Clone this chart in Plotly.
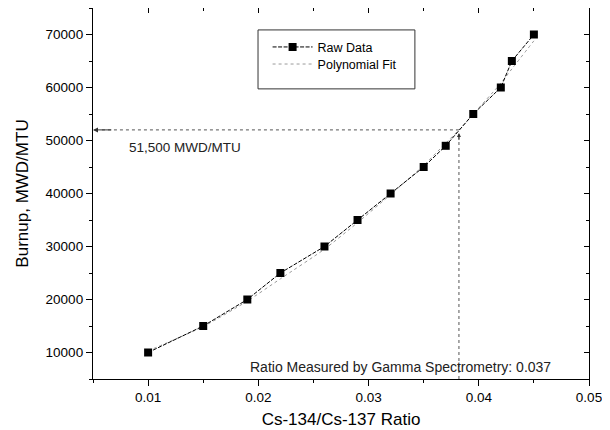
import plotly.graph_objects as go

# ---- data ----
raw_ratio = [0.010, 0.015, 0.019, 0.022, 0.026, 0.029, 0.032, 0.035, 0.037, 0.0395, 0.042, 0.043, 0.045]
raw_burnup = [10000, 15000, 20000, 25000, 30000, 35000, 40000, 45000, 49000, 55000, 60000, 65000, 70000]

fit_ratio = [0.010, 0.015, 0.019, 0.022, 0.026, 0.029, 0.032, 0.035, 0.037, 0.0382, 0.0395, 0.042, 0.043, 0.045]
fit_burnup = [10300, 14900, 19700, 23900, 29500, 34500, 39800, 45300, 49500, 52000, 55000, 60800, 63500, 68800]

measured_ratio = 0.0382
measured_burnup = 52000
x_range = [0.005, 0.05]
y_range = [5000, 75000]

FONT = "Arial, Liberation Sans, sans-serif"

fig = go.Figure()

fig.add_trace(go.Scatter(
    x=fit_ratio, y=fit_burnup, mode="lines", name="Polynomial Fit",
    line=dict(color="#9a9a9a", width=1, dash="dot", shape="spline", smoothing=0.6),
    legend="legend2",
))
fig.add_trace(go.Scatter(
    x=raw_ratio, y=raw_burnup, mode="lines+markers", name="Raw Data",
    line=dict(color="black", width=1, dash="4px,1.5px"),
    marker=dict(symbol="square", size=8, color="black"),
    legend="legend",
))
# dummy trace for the mirrored (inside-tick) axes
fig.add_trace(go.Scatter(x=[None], y=[None], xaxis="x2", yaxis="y2",
                         showlegend=False, hoverinfo="skip"))

# guide lines
fig.add_shape(type="line", x0=measured_ratio, x1=0.0056, y0=measured_burnup, y1=measured_burnup,
              line=dict(color="#555", width=1, dash="dot"))
fig.add_shape(type="line", x0=measured_ratio, x1=measured_ratio, y0=y_range[0], y1=measured_burnup - 800,
              line=dict(color="#555", width=1, dash="dot"))
# legend frame
fig.add_shape(type="rect", xref="paper", yref="paper", x0=0.3327, x1=0.649, y0=0.782, y1=0.9409,
              line=dict(color="#333", width=1), fillcolor="rgba(0,0,0,0)")

fig.add_annotation(x=x_range[0], y=measured_burnup, ax=0.0068, ay=measured_burnup,
                   axref="x", ayref="y", showarrow=True, arrowhead=2, arrowsize=1,
                   arrowwidth=1, arrowcolor="#333", text="")
fig.add_annotation(x=measured_ratio, y=51400, ax=measured_ratio, ay=49800,
                   axref="x", ayref="y", showarrow=True, arrowhead=2, arrowsize=0.8,
                   arrowwidth=1, arrowcolor="#333", text="")
fig.add_annotation(x=0.00805, y=48700, text="51,500 MWD/MTU", showarrow=False,
                   xanchor="left", yanchor="middle", font=dict(family=FONT, size=13.5, color="#222"))
fig.add_annotation(x=0.0191, y=7300, text="Ratio Measured by Gamma Spectrometry: 0.037", showarrow=False,
                   xanchor="left", yanchor="middle", font=dict(family=FONT, size=14, color="#222"))

axis_common = dict(showgrid=False, zeroline=False, showline=True, linecolor="black", linewidth=1.3,
                   ticks="outside", ticklen=6, tickwidth=1.2, tickcolor="black",
                   tickfont=dict(family=FONT, size=13.5, color="black"))

# the page body adds an 8px offset, so margins are compensated
fig.update_layout(
    width=610, height=430,
    margin=dict(l=85, r=29, t=0, b=59),
    paper_bgcolor="white", plot_bgcolor="white",
    xaxis=dict(range=x_range, tick0=0, dtick=0.01, mirror=True,
               minor=dict(dtick=0.005, ticks="outside", ticklen=3, tickcolor="black"),
               title=dict(text="Cs-134/Cs-137 Ratio", font=dict(family=FONT, size=17, color="black"), standoff=8),
               **axis_common),
    yaxis=dict(range=y_range, tick0=0, dtick=10000, mirror=True, tickformat="d",
               minor=dict(dtick=5000, ticks="outside", ticklen=3, tickcolor="black"),
               title=dict(text="Burnup, MWD/MTU", font=dict(family=FONT, size=17, color="black"), standoff=12),
               **axis_common),
    xaxis2=dict(range=x_range, overlaying="x", side="top", anchor="y2", showgrid=False, zeroline=False,
                showline=False, showticklabels=False, ticks="inside", ticklen=5, tick0=0, dtick=0.01,
                tickcolor="black", minor=dict(dtick=0.005, ticks="inside", ticklen=3, tickcolor="black")),
    yaxis2=dict(range=y_range, overlaying="y", side="right", anchor="x2", showgrid=False, zeroline=False,
                showline=False, showticklabels=False, ticks="inside", ticklen=5, tick0=0, dtick=10000,
                tickcolor="black", minor=dict(dtick=5000, ticks="inside", ticklen=3, tickcolor="black")),
    legend=dict(x=0.352, y=0.894, xanchor="left", yanchor="middle", bgcolor="rgba(0,0,0,0)",
                borderwidth=0, itemwidth=40, font=dict(family=FONT, size=12.5, color="black")),
    legend2=dict(x=0.352, y=0.848, xanchor="left", yanchor="middle", bgcolor="rgba(0,0,0,0)",
                 borderwidth=0, itemwidth=40, font=dict(family=FONT, size=12.5, color="black")),
)

fig.write_html("out.html")
